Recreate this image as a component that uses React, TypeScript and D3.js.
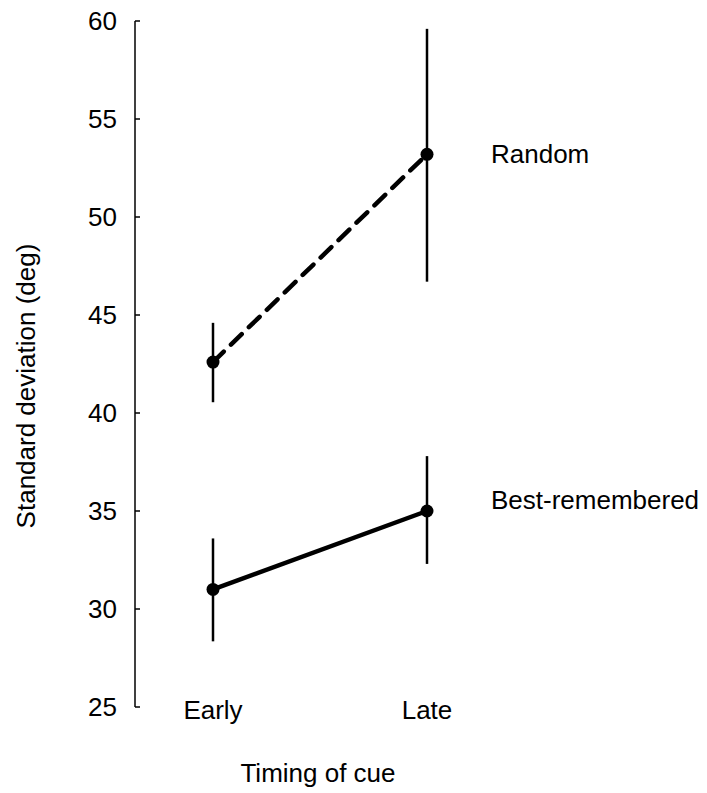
import React from 'react';
import * as d3 from 'd3';

const timings = ['Early', 'Late'];
const yTicks = [25, 30, 35, 40, 45, 50, 55, 60];

const randomMean = [42.6, 53.2];
const randomLow = [40.55, 46.7];
const randomHigh = [44.6, 59.6];

const bestMean = [31.0, 35.0];
const bestLow = [28.35, 32.3];
const bestHigh = [33.6, 37.8];

const seriesNames = ['Random', 'Best-remembered'];

export default function App() {
  const width = 707;
  const height = 793;

  const y = d3.scaleLinear().domain([25, 60]).range([707, 21]);
  const x = d3.scalePoint().domain(timings).range([213, 427]);

  const line = d3.line<number>()
    .x((d, i) => x(timings[i]) as number)
    .y(d => y(d));

  const series = [
    { name: seriesNames[0], mean: randomMean, low: randomLow, high: randomHigh, dash: '15,10', labelDy: 9 },
    { name: seriesNames[1], mean: bestMean, low: bestLow, high: bestHigh, dash: null, labelDy: -2 },
  ];

  const font = '"Liberation Sans", Arial, Helvetica, sans-serif';
  const fs = 26;
  const axisX = 135;

  return (
    <svg width={width} height={height} style={{ position: 'absolute', left: 0, top: 0, background: '#fff' }} fontFamily={font}>
      {/* y axis, ticks point inward */}
      <line x1={axisX} x2={axisX} y1={y(60)} y2={y(25)} stroke="#000" strokeWidth={1.5} />
      {yTicks.map(t => (
        <g key={t}>
          <line x1={axisX} x2={axisX + 5} y1={y(t)} y2={y(t)} stroke="#000" strokeWidth={1.5} />
          <text x={117} y={y(t) + 9} textAnchor="end" fontSize={fs}>{t}</text>
        </g>
      ))}
      <text transform="translate(35,386) rotate(-90)" textAnchor="middle" fontSize={fs}>
        Standard deviation (deg)
      </text>

      {timings.map(t => (
        <text key={t} x={x(t)} y={719} textAnchor="middle" fontSize={fs}>{t}</text>
      ))}
      <text x={318} y={782} textAnchor="middle" fontSize={fs}>Timing of cue</text>

      {series.map(s => (
        <g key={s.name}>
          {s.mean.map((m, i) => (
            <line key={i} x1={x(timings[i])} x2={x(timings[i])} y1={y(s.low[i])} y2={y(s.high[i])}
              stroke="#000" strokeWidth={2.5} />
          ))}
          <path d={line(s.mean) || ''} fill="none" stroke="#000" strokeWidth={4.5}
            strokeDasharray={s.dash || undefined} strokeLinecap={s.dash ? 'round' : 'butt'} />
          {s.mean.map((m, i) => (
            <circle key={i} cx={x(timings[i])} cy={y(m)} r={6.5} fill="#000" />
          ))}
          <text x={491} y={y(s.mean[1]) + s.labelDy} fontSize={fs}>{s.name}</text>
        </g>
      ))}
    </svg>
  );
}
